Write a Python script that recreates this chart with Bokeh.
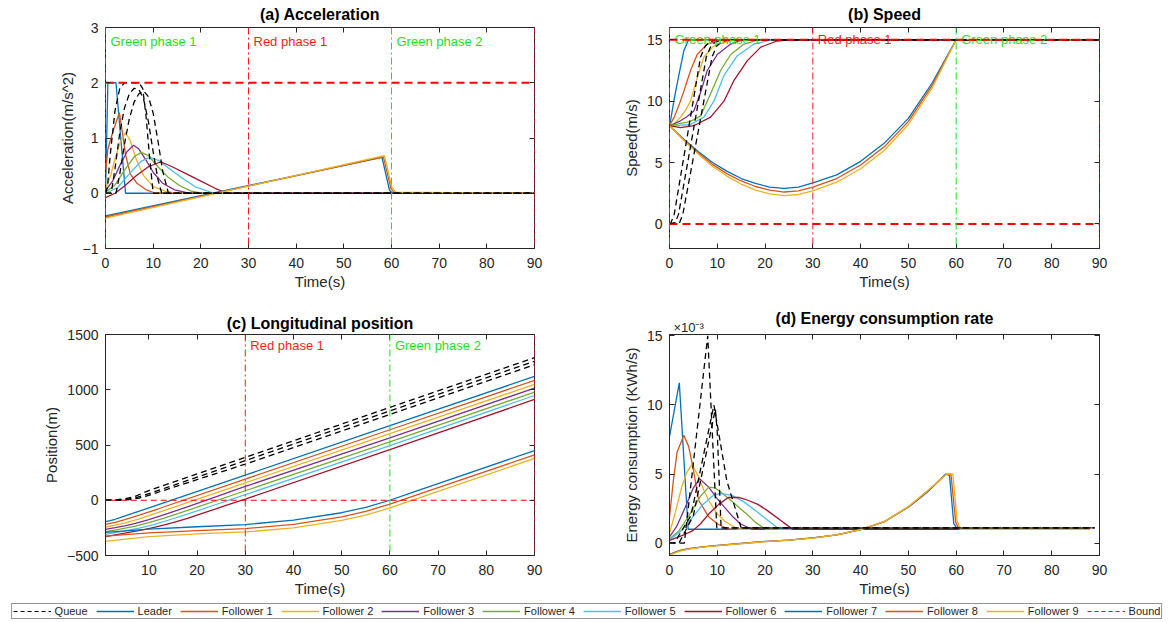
from bokeh.plotting import figure
from bokeh.layouts import column, row
from bokeh.models import Range1d, FixedTicker, LinearAxis, Span, Legend, LegendItem
from bokeh.embed import file_html
from bokeh.resources import INLINE
from bokeh.core.properties import value

FONT = "Liberation Sans"
INK = "#262626"
NAN = float("nan")

# ---------------- data ----------------
vehicle_names = ["Leader", "Follower 1", "Follower 2", "Follower 3", "Follower 4",
                 "Follower 5", "Follower 6", "Follower 7", "Follower 8", "Follower 9"]
phase_line_t = [0, 30, 60, 90]
phase_label_t = [0, 30, 60]
phase_labels = ["Green phase 1", "Red phase 1", "Green phase 2"]
bound_t = [0, 90]
acc_bounds = [2.0]
spd_bounds = [15.0, 0.0]
pos_bounds = [0.0]

# (a) acceleration (m/s^2)
acc_leader_t = [0, 0.5, 2.2, 4.2, 90]
acc_leader = [0.0, 2.0, 2.0, 0.0, 0.0]
acc_f1_t = [0, 0.5, 1.5, 2.9, 3.5, 4.2, 5.2, 6.6, 8.6, 10.5, 90]
acc_f1 = [0.35, 0.8, 1.1, 1.46, 1.13, 0.7, 0.35, 0.18, 0.06, 0.0, 0.0]
acc_f2_t = [0, 1, 2, 3, 4.2, 5.2, 6.5, 8, 10, 12.5, 15, 90]
acc_f2 = [0.08, 0.3, 0.62, 0.9, 1.1, 0.95, 0.6, 0.32, 0.12, 0.04, 0.0, 0.0]
acc_f3_t = [0, 1.5, 3, 4.5, 5.9, 7, 8.5, 10, 12, 14.5, 17.5, 90]
acc_f3 = [0.05, 0.22, 0.5, 0.75, 0.87, 0.8, 0.6, 0.38, 0.18, 0.06, 0.0, 0.0]
acc_f4_t = [0, 2, 4, 6, 7.5, 9, 11, 13, 15.5, 18, 20.2, 90]
acc_f4 = [0.02, 0.15, 0.42, 0.66, 0.74, 0.68, 0.48, 0.3, 0.14, 0.04, 0.0, 0.0]
acc_f5_t = [0, 2.5, 5, 7.5, 9.3, 11, 13.5, 16, 19, 22.8, 90]
acc_f5 = [0.0, 0.1, 0.35, 0.58, 0.65, 0.6, 0.44, 0.28, 0.11, 0.0, 0.0]
acc_f6_t = [0, 2, 4, 6.5, 9, 11.6, 14, 17, 20, 23, 25.5, 90]
acc_f6 = [-0.08, 0.0, 0.13, 0.32, 0.48, 0.57, 0.48, 0.35, 0.22, 0.09, 0.0, 0.0]
acc_f7_t = [0, 58.0, 59.6, 60.3, 90]
acc_f7 = [-0.41, 0.65, 0.05, 0.0, 0.0]
acc_f8_t = [0, 58.3, 59.9, 60.6, 90]
acc_f8 = [-0.43, 0.66, 0.08, 0.01, 0.0]
acc_f9_t = [0, 58.5, 60.1, 60.9, 90]
acc_f9 = [-0.45, 0.68, 0.1, 0.02, 0.0]
acc_q1_t = [0, 0.4, 1, 2, 3, 4, 5, 6, 7, 7.8, 8.5, 9.2, 10, 90]
acc_q1 = [0, 0.1, 0.7, 1.5, 1.9, 2.0, 2.0, 2.0, 2.0, 1.9, 1.4, 0.7, 0.0, 0.0]
acc_q2_t = [0, 1.2, 2, 3, 4, 5, 6, 7, 8, 9, 10, 11, 11.8, 90]
acc_q2 = [0, 0, 0.45, 1.1, 1.55, 1.8, 1.9, 1.88, 1.7, 1.3, 0.75, 0.25, 0, 0]
acc_q3_t = [0, 2.2, 3, 4, 5, 6, 7, 8, 9, 10, 11, 12, 13.2, 90]
acc_q3 = [0, 0, 0.35, 0.9, 1.35, 1.65, 1.8, 1.85, 1.75, 1.45, 0.95, 0.4, 0, 0]

# (b) speed (m/s)
spd_leader_t = [0, 0.3, 1.0, 2.0, 3.0, 4.0, 90]
spd_leader = [8.0, 8.6, 10.2, 12.2, 14.1, 15.0, 15.0]
spd_f1_t = [0, 1.0, 2.0, 3.0, 4.4, 5.8, 7.9, 10.7, 12.0, 90]
spd_f1 = [8.0, 8.7, 9.7, 10.8, 12.5, 13.8, 14.65, 14.95, 15.0, 15.0]
spd_f2_t = [0, 1.0, 2.3, 3.4, 4.4, 5.8, 7.2, 9.3, 12.8, 15.0, 90]
spd_f2 = [8.0, 8.15, 8.7, 9.3, 10.0, 11.9, 13.6, 14.5, 14.93, 15.0, 15.0]
spd_f3_t = [0, 2.3, 3.7, 5.1, 6.5, 7.9, 10.0, 12.8, 14.9, 17.0, 90]
spd_f3 = [8.0, 8.4, 8.75, 9.2, 10.7, 12.5, 13.8, 14.65, 14.95, 15.0, 15.0]
spd_f4_t = [0, 3.7, 5.2, 6.5, 8.6, 10.7, 12.8, 15.6, 18.4, 20.0, 90]
spd_f4 = [8.0, 8.3, 8.5, 8.8, 10.6, 12.5, 13.8, 14.65, 14.97, 15.0, 15.0]
spd_f5_t = [0, 2.0, 4.4, 7.2, 9.3, 11.4, 14.2, 17.7, 21.1, 23.0, 90]
spd_f5 = [8.0, 8.02, 8.1, 8.7, 10.0, 12.1, 13.7, 14.65, 14.98, 15.0, 15.0]
spd_f6_t = [0, 2.3, 5.1, 8.6, 11.4, 13.5, 16.3, 19.1, 22.5, 25.0, 90]
spd_f6 = [8.0, 7.85, 8.0, 8.7, 10.0, 11.7, 13.3, 14.4, 14.9, 15.0, 15.0]
spd_low_t = [0, 3, 6, 9, 12, 15, 18, 21, 24, 27, 30, 35, 40, 45, 50, 55, 60, 90]
spd_f7 = [8.0, 6.9, 5.9, 5.0, 4.3, 3.7, 3.3, 3.0, 2.9, 3.0, 3.35, 4.0, 5.1, 6.6, 8.6, 11.5, 15.0, 15.0]
spd_f8 = [8.0, 6.85, 5.8, 4.85, 4.1, 3.5, 3.05, 2.75, 2.6, 2.7, 3.0, 3.7, 4.8, 6.3, 8.35, 11.3, 15.0, 15.0]
spd_f9 = [8.0, 6.8, 5.7, 4.7, 3.9, 3.25, 2.75, 2.45, 2.3, 2.4, 2.7, 3.4, 4.5, 6.0, 8.1, 11.1, 15.0, 15.0]
spd_q1_t = [0, 0.3, 1.0, 6.5, 7.5, 8.5, 10.0, 90]
spd_q1 = [0, 0.1, 0.8, 13.6, 14.5, 14.85, 15.0, 15.0]
spd_q2_t = [0, 1.2, 1.9, 7.7, 8.7, 9.7, 11.5, 90]
spd_q2 = [0, 0.1, 0.8, 13.6, 14.5, 14.85, 15.0, 15.0]
spd_q3_t = [0, 2.1, 2.8, 8.9, 9.9, 10.9, 13.0, 90]
spd_q3 = [0, 0.1, 0.8, 13.6, 14.5, 14.85, 15.0, 15.0]

# (c) longitudinal position (m)
pos_leader_t = [1, 2, 3, 4, 30, 60, 90]
pos_leader = [-194, -184, -172, -158, 227, 676, 1121]
pos_f1_t = [1, 3, 5, 8, 12, 30, 60, 90]
pos_f1 = [-218, -200, -176, -135, -77, 191, 638, 1085]
pos_f2_t = [1, 3, 5, 8, 12, 16, 30, 60, 90]
pos_f2 = [-242, -226, -206, -168, -110, -51, 158, 602, 1048]
pos_f3_t = [1, 3, 5, 7, 10, 14, 18, 30, 60, 90]
pos_f3 = [-264, -248, -231, -211, -176, -119, -59, 125, 565, 1015]
pos_f4_t = [1, 4, 7, 10, 13, 16, 20, 30, 60, 90]
pos_f4 = [-285, -261, -236, -203, -164, -122, -63, 86, 528, 979]
pos_f5_t = [1, 5, 8, 11, 14, 18, 23, 30, 60, 90]
pos_f5 = [-309, -277, -252, -220, -181, -126, -52, 50, 495, 948]
pos_f6_t = [1, 5, 9, 12, 15, 18, 22, 26, 30, 60, 90]
pos_f6 = [-330, -298, -265, -236, -202, -163, -106, -47, 10, 458, 912]
pos_low_t = [1, 10, 20, 30, 40, 50, 55, 60, 65, 70, 90]
pos_f7 = [-290, -262, -240, -220, -180, -113, -64, 0, 75, 150, 450]
pos_f8 = [-325, -296, -274, -256, -218, -150, -100, -36, 39, 114, 410]
pos_f9 = [-372, -330, -305, -287, -250, -183, -134, -70, 5, 80, 378]
pos_q1_t = [1, 3, 5, 7, 10, 30, 60, 90]
pos_q1 = [0, 3, 13, 33, 88, 388, 840, 1290]
pos_q2_t = [1, 3, 5, 7, 9, 12, 30, 60, 90]
pos_q2 = [0, 0, 6, 20, 45, 90, 358, 808, 1258]
pos_q3_t = [1, 4, 6, 8, 10, 13, 30, 60, 90]
pos_q3 = [0, 0, 6, 20, 45, 88, 327, 777, 1227]

# (d) energy consumption rate (x 1e-3 KWh/s)
en_leader_t = [0, 2.05, 3.9, 88]
en_leader = [7.7, 11.6, 1.0, 1.0]
en_f1_t = [0, 0.8, 1.6, 3.0, 4.0, 4.9, 6.1, 8.2, 10.0, 12.3, 88]
en_f1 = [1.9, 4.5, 6.6, 7.8, 7.0, 5.5, 3.1, 1.9, 1.4, 1.0, 1.0]
en_f2_t = [0, 1.2, 2.5, 3.6, 4.7, 6.1, 7.2, 8.2, 9.8, 11.5, 14.3, 88]
en_f2 = [0.7, 2.2, 4.0, 5.1, 5.7, 4.8, 3.8, 3.1, 2.2, 1.6, 1.0, 1.0]
en_f3_t = [0, 1.5, 3.3, 5.0, 6.3, 8.2, 10.0, 11.5, 13.0, 14.8, 17.2, 88]
en_f3 = [0.45, 1.2, 2.6, 4.0, 4.65, 4.05, 3.2, 2.6, 2.0, 1.4, 1.0, 1.0]
en_f4_t = [0, 2.0, 4.1, 6.5, 8.2, 9.5, 10.7, 12.8, 14.8, 16.5, 18.0, 20.1, 88]
en_f4 = [0.3, 0.9, 2.0, 3.4, 4.05, 4.0, 3.7, 3.1, 2.5, 2.0, 1.5, 1.0, 1.0]
en_f5_t = [0, 2.5, 4.9, 7.0, 9.0, 10.5, 13.1, 15.5, 18.0, 21.3, 23.0, 88]
en_f5 = [0.25, 0.9, 1.9, 2.8, 3.4, 3.6, 3.45, 3.0, 2.35, 1.45, 1.0, 1.0]
en_f6_t = [0, 3.0, 4.9, 6.5, 8.2, 10.3, 12.3, 14.5, 16.4, 18.5, 20.5, 23.8, 25.8, 88]
en_f6 = [0.2, 0.6, 0.9, 1.4, 2.1, 2.8, 3.3, 3.3, 3.1, 2.8, 2.35, 1.5, 1.0, 1.0]
en_f7_t = [0, 2, 4, 7, 10, 15, 20, 25, 30, 35, 40, 45, 50, 54, 57.8, 58.6, 59.5, 60.3, 88]
en_f7 = [-0.82, -0.55, -0.4, -0.27, -0.17, -0.02, 0.12, 0.22, 0.38, 0.6, 0.98, 1.55, 2.6, 3.7, 5.0, 4.9, 1.4, 1.0, 1.0]
en_f8_t = [0, 2, 4, 7, 10, 15, 20, 25, 30, 35, 40, 45, 50, 54, 57.8, 58.9, 59.9, 60.6, 88]
en_f8 = [-0.85, -0.57, -0.42, -0.28, -0.18, -0.03, 0.11, 0.22, 0.37, 0.6, 0.98, 1.56, 2.62, 3.75, 4.95, 5.0, 1.5, 1.0, 1.0]
en_f9_t = [0, 2, 4, 7, 10, 15, 20, 25, 30, 35, 40, 45, 50, 54, 58.0, 59.3, 60.2, 60.9, 88]
en_f9 = [-0.88, -0.6, -0.44, -0.3, -0.19, -0.04, 0.1, 0.21, 0.36, 0.6, 0.98, 1.57, 2.64, 3.78, 5.0, 5.0, 1.6, 1.0, 1.0]
en_q1_t = [0, 3.1, 8.0, 9.9, 89]
en_q1 = [0, 0, 15.0, 1.1, 1.1]
en_q2_t = [0, 1.0, 4.5, 9.3, 12.0, 15.0, 89]
en_q2 = [0, 0, 2.0, 10.0, 4.5, 1.1, 1.1]
en_q3_t = [0, 2.0, 5.0, 9.6, 10.0, 10.8, 89]
en_q3 = [0, 0, 2.0, 9.7, 8.0, 1.1, 1.1]
en_scale_label = "×10⁻³"

# ---------------- styles ----------------
COLORS = ["#0072BD", "#D95319", "#EDB120", "#7E2F8E", "#77AC30",
          "#4DBEEE", "#A2142F", "#0072BD", "#D95319", "#EDB120"]
GREEN = "#1ee01e"
RED = "#ff1a1a"
PHASE_COLORS = [GREEN, RED, GREEN, RED]
LABEL_COLORS = [GREEN, RED, GREEN]
LW = 1.3
SCALE_TICK = 4  # where the x10^-3 exponent note sits above panel (d)

acc_series = [(acc_leader_t, acc_leader), (acc_f1_t, acc_f1), (acc_f2_t, acc_f2), (acc_f3_t, acc_f3),
              (acc_f4_t, acc_f4), (acc_f5_t, acc_f5), (acc_f6_t, acc_f6), (acc_f7_t, acc_f7),
              (acc_f8_t, acc_f8), (acc_f9_t, acc_f9)]
acc_queue = [(acc_q1_t, acc_q1), (acc_q2_t, acc_q2), (acc_q3_t, acc_q3)]
spd_series = [(spd_leader_t, spd_leader), (spd_f1_t, spd_f1), (spd_f2_t, spd_f2), (spd_f3_t, spd_f3),
              (spd_f4_t, spd_f4), (spd_f5_t, spd_f5), (spd_f6_t, spd_f6), (spd_low_t, spd_f7),
              (spd_low_t, spd_f8), (spd_low_t, spd_f9)]
spd_queue = [(spd_q1_t, spd_q1), (spd_q2_t, spd_q2), (spd_q3_t, spd_q3)]
pos_series = [(pos_leader_t, pos_leader), (pos_f1_t, pos_f1), (pos_f2_t, pos_f2), (pos_f3_t, pos_f3),
              (pos_f4_t, pos_f4), (pos_f5_t, pos_f5), (pos_f6_t, pos_f6), (pos_low_t, pos_f7),
              (pos_low_t, pos_f8), (pos_low_t, pos_f9)]
pos_queue = [(pos_q1_t, pos_q1), (pos_q2_t, pos_q2), (pos_q3_t, pos_q3)]
en_series = [(en_leader_t, en_leader), (en_f1_t, en_f1), (en_f2_t, en_f2), (en_f3_t, en_f3),
             (en_f4_t, en_f4), (en_f5_t, en_f5), (en_f6_t, en_f6), (en_f7_t, en_f7),
             (en_f8_t, en_f8), (en_f9_t, en_f9)]
en_queue = [(en_q1_t, en_q1), (en_q2_t, en_q2), (en_q3_t, en_q3)]


def panel(title, xr, yr, xticks, yticks, ylabel, width, height, bl, br, bt, bb,
          title_standoff, title_valign):
    p = figure(width=width, height=height, x_range=Range1d(*xr), y_range=Range1d(*yr),
               output_backend="svg", toolbar_location=None,
               min_border_left=bl, min_border_right=br, min_border_top=bt, min_border_bottom=bb)
    p.title.text = title
    p.title.align = "center"
    p.title.vertical_align = title_valign
    p.title.text_font = FONT
    p.title.text_font_size = "16px"
    p.title.text_font_style = "bold"
    p.title.text_color = "black"
    p.title.standoff = title_standoff
    p.title.offset = 0
    p.xgrid.grid_line_color = None
    p.ygrid.grid_line_color = None
    p.outline_line_color = INK
    p.outline_line_alpha = 1.0
    p.xaxis.ticker = FixedTicker(ticks=xticks)
    p.yaxis.ticker = FixedTicker(ticks=yticks)
    p.xaxis.axis_label = "Time(s)"
    p.yaxis.axis_label = ylabel
    for ax in (p.xaxis[0], p.yaxis[0]):
        ax.major_tick_in = 5
        ax.major_tick_out = 0
        ax.minor_tick_line_color = None
        ax.axis_line_color = INK
        ax.major_tick_line_color = INK
        ax.major_label_text_font = FONT
        ax.major_label_text_font_size = "14px"
        ax.major_label_text_color = INK
        ax.axis_label_text_font = FONT
        ax.axis_label_text_font_size = "15px"
        ax.axis_label_text_font_style = "normal"
        ax.axis_label_text_color = INK
    p.xaxis.major_label_standoff = 9
    p.xaxis.axis_label_standoff = 2
    p.yaxis.major_label_standoff = 7
    p.yaxis.axis_label_standoff = 4
    top = LinearAxis(ticker=FixedTicker(ticks=xticks), major_label_text_font_size="1px",
                     major_label_text_color=None,
                     major_tick_in=5, major_tick_out=0, minor_tick_line_color=None,
                     axis_line_color=None, major_label_standoff=0, major_tick_line_color=INK)
    p.add_layout(top, "above")
    right = LinearAxis(ticker=FixedTicker(ticks=yticks), major_label_text_font_size="1px",
                       major_label_text_color=None,
                       major_tick_in=5, major_tick_out=0, minor_tick_line_color=None,
                       axis_line_color=None, major_label_standoff=0, major_tick_line_color=INK)
    p.add_layout(right, "right")
    return p


def draw_series(p, series, queue):
    for (t, v), c in zip(series, COLORS):
        p.line(t, v, line_color=c, line_width=LW)
    for t, v in queue:
        p.line(t, v, line_color="black", line_width=1.3, line_dash="6 4")


def draw_phases(p, line_t, line_colors, label_t, labels, label_colors, label_y):
    for t, c in zip(line_t, line_colors):
        p.add_layout(Span(location=t, dimension="height", line_color=c, line_width=1,
                          line_dash="7 3 2 3"))
    for t, s, c in zip(label_t, labels, label_colors):
        p.text(x=[t], y=[label_y], text=[s], text_color=c, text_font=value(FONT),
               text_font_size="13px", text_baseline="middle", text_align="left", x_offset=5)


def draw_bounds(p, levels, width, dash):
    for lv in levels:
        p.line(bound_t, [lv, lv], line_color="#ff0000", line_width=width, line_dash=dash)


# ---------------- panels ----------------
pa = panel("(a) Acceleration", (0, 90), (-1, 3), list(range(0, 91, 10)), [-1, 0, 1, 2, 3],
           "Acceleration(m/s^2)", 568, 306, 105, 34, 27, 58, 6, "top")
draw_series(pa, acc_series, acc_queue)
draw_phases(pa, phase_line_t, PHASE_COLORS, phase_label_t, phase_labels, LABEL_COLORS, 2.75)
draw_bounds(pa, acc_bounds, 2, "8 5")

pb = panel("(b) Speed", (0, 90), (-2, 16), list(range(0, 91, 10)), [0, 5, 10, 15],
           "Speed(m/s)", 605, 306, 101, 74, 27, 58, 6, "top")
draw_series(pb, spd_series, spd_queue)
draw_phases(pb, phase_line_t, PHASE_COLORS, phase_label_t, phase_labels, LABEL_COLORS, 15.0)
draw_bounds(pb, spd_bounds, 2, "8 5")

pc = panel("(c) Longitudinal position", (1, 90), (-500, 1500), list(range(10, 91, 10)),
           [-500, 0, 500, 1000, 1500], "Position(m)", 568, 294, 105, 34, 28, 45, 5, "bottom")
draw_series(pc, pos_series, pos_queue)
draw_phases(pc, phase_line_t[1:], PHASE_COLORS[1:], phase_label_t[1:], phase_labels[1:],
            LABEL_COLORS[1:], 1400)
draw_bounds(pc, pos_bounds, 1.2, "6 4")

pd = panel("(d) Energy consumption rate", (0, 90), (-0.9, 15.1), list(range(0, 91, 10)),
           [0, 5, 10, 15], "Energy consumption (KWh/s)", 605, 294, 101, 74, 28, 45, -20, "bottom")
draw_series(pd, en_series, en_queue)
scale_axis = LinearAxis(ticker=FixedTicker(ticks=[SCALE_TICK]),
                        major_label_overrides={SCALE_TICK: en_scale_label},
                        major_tick_line_color=None, minor_tick_line_color=None,
                        major_tick_in=0, major_tick_out=0,
                        axis_line_color=None, major_label_standoff=0,
                        major_label_text_font=FONT, major_label_text_font_size="13px",
                        major_label_text_color=INK)
pd.add_layout(scale_axis, "above")

# ---------------- legend strip ----------------
pl = figure(width=1173, height=22, output_backend="svg", toolbar_location=None,
            x_axis_type=None, y_axis_type=None, min_border=0, outline_line_color=None)
pl.xgrid.grid_line_color = None
pl.ygrid.grid_line_color = None
items = [LegendItem(label="Queue", renderers=[pl.line([NAN], [NAN], line_color="black",
                                                      line_width=1.2, line_dash="4 3")])]
for name, c in zip(vehicle_names, COLORS):
    items.append(LegendItem(label=name, renderers=[pl.line([NAN], [NAN], line_color=c, line_width=1.5)]))
items.append(LegendItem(label="Bound", renderers=[pl.line([NAN], [NAN], line_color="#ff0000",
                                                          line_width=1.2, line_dash="4 3")]))
leg = Legend(items=items, orientation="horizontal", location="center", margin=0, padding=1,
             spacing=8, glyph_width=38, glyph_height=12, label_height=12, label_standoff=4,
             label_text_font=FONT, label_text_font_size="11px", label_text_color=INK,
             border_line_color=INK, border_line_width=1)
pl.add_layout(leg, "center")

layout = column(row(pa, pb), row(pc, pd), pl)
open("out.html", "w").write(file_html(layout, INLINE))
